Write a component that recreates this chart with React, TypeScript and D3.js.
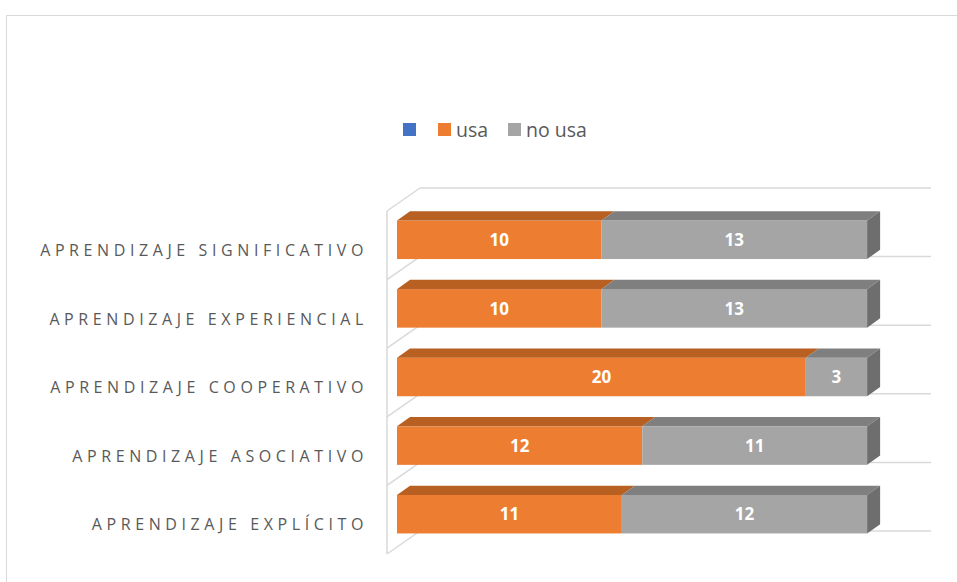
import React from "react";
import * as d3 from "d3";

const categories = [
  "APRENDIZAJE SIGNIFICATIVO",
  "APRENDIZAJE EXPERIENCIAL",
  "APRENDIZAJE COOPERATIVO",
  "APRENDIZAJE ASOCIATIVO",
  "APRENDIZAJE EXPLÍCITO",
];
const usaValues = [10, 10, 20, 12, 11];
const noUsaValues = [13, 13, 3, 11, 12];
const legendLabels = ["", "usa", "no usa"];
const legendColors = ["#4472C4", "#ED7D31", "#A5A5A5"];

const W = 957;
const H = 582;

export default function App() {
  const frontX = 387;
  const wallDX = 33;
  const wallDY = -23;
  const barDX = 13;
  const barDY = -9.3;
  const barOffX = 10;
  const barOffY = -7;
  const plotTop = 211;
  const plotBottom = 554;
  const backRight = 931;

  const y = d3.scaleBand<string>().domain(categories).range([plotTop, plotBottom]);
  const x = d3.scaleLinear().domain([0, 25]).range([frontX + barOffX, frontX + barOffX + (backRight - frontX - wallDX)]);
  const barH = 38.5;

  const boundaries = categories.map((c) => y(c)!).concat([plotBottom]);

  const series = [
    { vals: usaValues, front: "#ED7D31", top: "#B85F22", side: "#A5541D" },
    { vals: noUsaValues, front: "#A5A5A5", top: "#7F7F7F", side: "#6E6E6E" },
  ];

  const font = "'Open Sans', 'Noto Sans', sans-serif";

  return (
    <svg width={W} height={H} style={{ position: "absolute", left: 0, top: 0 }}>
      <rect x={0} y={0} width={W} height={H} fill="#fff" />
      <path d={`M6.5,${H} V15.5 H${W}`} fill="none" stroke="#D9D9D9" strokeWidth={1} />

      {legendLabels.map((l, i) => {
        const xs = [403, 438, 508][i];
        return (
          <g key={i}>
            <rect x={xs} y={123} width={13} height={13} fill={legendColors[i]} />
            {l && (
              <text x={xs + 18} y={137} fontSize={19.5} fill="#595959" fontFamily={font}>
                {l}
              </text>
            )}
          </g>
        );
      })}

      {boundaries.map((b, i) => (
        <line key={"g" + i} x1={frontX + wallDX} x2={backRight} y1={b + wallDY} y2={b + wallDY} stroke="#D9D9D9" strokeWidth={1.5} />
      ))}
      <line x1={frontX} x2={frontX} y1={plotTop} y2={plotBottom} stroke="#D9D9D9" strokeWidth={1.5} />
      {boundaries.map((b, i) => (
        <line key={"d" + i} x1={frontX} x2={frontX + wallDX} y1={b} y2={b + wallDY} stroke="#D9D9D9" strokeWidth={1.5} />
      ))}

      {categories.map((c, ci) => {
        const yc = y(c)! + y.bandwidth() / 2 + barOffY + 1.5;
        const yt = yc - barH / 2;
        let acc = 0;
        const total = usaValues[ci] + noUsaValues[ci];
        return (
          <g key={c}>
            {series.map((s, si) => {
              const v = s.vals[ci];
              const x0 = x(acc);
              const x1 = x(acc + v);
              acc += v;
              return (
                <g key={si}>
                  <rect x={x0} y={yt} width={x1 - x0} height={barH} fill={s.front} />
                  <path d={`M${x0},${yt} L${x1},${yt} L${x1 + barDX},${yt + barDY} L${x0 + barDX},${yt + barDY} Z`} fill={s.top} />
                  <text x={(x0 + x1) / 2} y={yt + barH / 2} dy="0.36em" textAnchor="middle" fill="#fff" fontSize={17} fontWeight="bold" fontFamily={font}>
                    {v}
                  </text>
                </g>
              );
            })}
            {(() => {
              const xe = x(total);
              const s = series[1];
              return (
                <path d={`M${xe},${yt} L${xe + barDX},${yt + barDY} L${xe + barDX},${yt + barDY + barH} L${xe},${yt + barH} Z`} fill={s.side} />
              );
            })()}
            <text x={368} y={y(c)! + y.bandwidth() / 2 + 5} dy="0.36em" textAnchor="end" fill="#595959" fontSize={16} letterSpacing={4.6} fontFamily={font}>
              {c}
            </text>
          </g>
        );
      })}
    </svg>
  );
}
